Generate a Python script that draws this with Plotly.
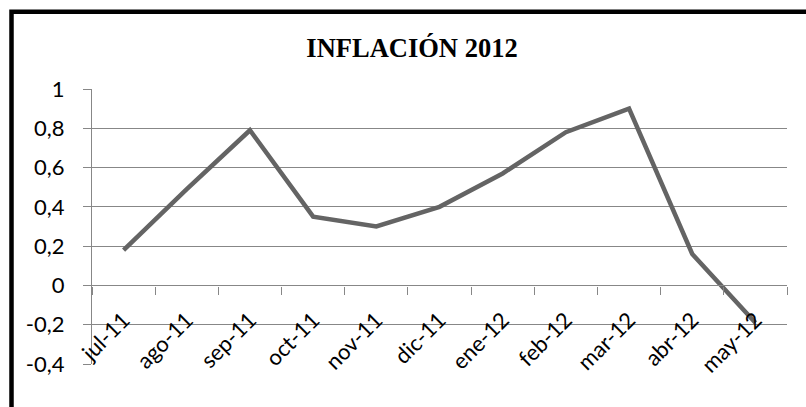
import plotly.graph_objects as go

# Monthly inflation (%)
months = ["jul-11", "ago-11", "sep-11", "oct-11", "nov-11", "dic-11",
          "ene-12", "feb-12", "mar-12", "abr-12", "may-12"]
inflation = [0.18, 0.49, 0.79, 0.35, 0.30, 0.40, 0.57, 0.78, 0.90, 0.16, -0.19]

y_ticks = [1, 0.8, 0.6, 0.4, 0.2, 0, -0.2, -0.4]
y_tick_text = ["1", "0,8", "0,6", "0,4", "0,2", "0", "-0,2", "-0,4"]

W, H = 806, 407
L, R, T, B = 92, 19, 89, 43
Y_MIN, Y_MAX = -0.4, 1.0

label_font = dict(family="Lato, 'Open Sans', sans-serif", size=22, color="#000000")
grid_col = "#878787"

fig = go.Figure(
    go.Scatter(
        x=months,
        y=inflation,
        mode="lines",
        line=dict(color="#646464", width=4.5),
        showlegend=False,
        hoverinfo="x+y",
    )
)

# paper coordinates of the outer frame (left and top edges)
pw, ph = W - L - R, H - T - B
def px_x(p):
    return (p - L) / pw
def px_y(p):
    return (H - B - p) / ph

frame_path = "M {x0},{y0} L {x0},{y1} L {x1},{y1}".format(
    x0=px_x(11.5), y0=px_y(H + 10), y1=px_y(11.8), x1=px_x(W + 10)
)

fig.update_layout(
    width=W,
    height=H,
    margin=dict(l=L, r=R, t=T, b=B),
    paper_bgcolor="#ffffff",
    plot_bgcolor="#ffffff",
    title=dict(
        text="<b>INFLACIÓN 2012</b>",
        font=dict(family="'Liberation Serif', 'Times New Roman', serif", size=26.5, color="#000000"),
        x=412 / W,
        xanchor="center",
        xref="container",
        y=1 - 48 / H,
        yanchor="middle",
        yref="container",
    ),
    xaxis=dict(
        type="category",
        range=[-0.5, len(months) - 0.5],
        anchor="free",
        position=(0 - Y_MIN) / (Y_MAX - Y_MIN),
        showline=True,
        linecolor=grid_col,
        linewidth=1.3,
        ticks="outside",
        ticklen=8,
        tickcolor=grid_col,
        tickwidth=1.3,
        tickson="boundaries",
        showgrid=False,
        tickangle=-45,
        ticklabelstandoff=12,
        tickfont=label_font,
        zeroline=False,
    ),
    yaxis=dict(
        range=[Y_MIN, Y_MAX],
        tickvals=y_ticks,
        ticktext=y_tick_text,
        showgrid=True,
        gridcolor=grid_col,
        gridwidth=1.3,
        showline=True,
        linecolor=grid_col,
        linewidth=1.3,
        ticks="outside",
        ticklen=8,
        tickcolor=grid_col,
        tickwidth=1.3,
        ticklabelstandoff=14,
        tickfont=label_font,
        zeroline=False,
    ),
    shapes=[
        dict(
            type="path",
            path=frame_path,
            xref="paper",
            yref="paper",
            line=dict(color="#000000", width=4.5),
            layer="above",
        )
    ],
)

fig.write_html("out.html")
